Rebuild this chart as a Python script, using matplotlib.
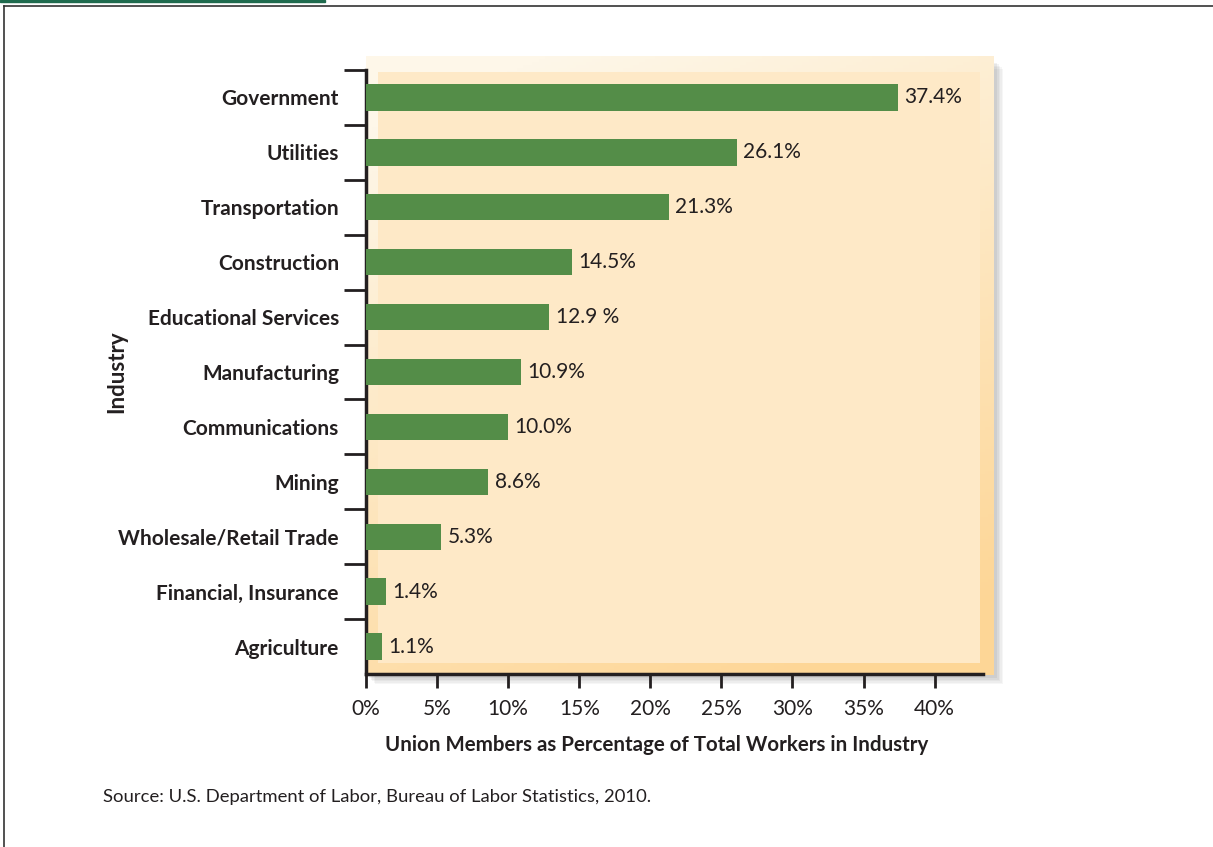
import numpy as np
import matplotlib.pyplot as plt
from matplotlib.patches import Rectangle

industries = ['Government', 'Utilities', 'Transportation', 'Construction',
              'Educational Services', 'Manufacturing', 'Communications',
              'Mining', 'Wholesale/Retail Trade', 'Financial, Insurance',
              'Agriculture']
share = [37.4, 26.1, 21.3, 14.5, 12.9, 10.9, 10.0, 8.6, 5.3, 1.4, 1.1]
value_labels = ['37.4%', '26.1%', '21.3%', '14.5%', '12.9 %', '10.9%',
                '10.0%', '8.6%', '5.3%', '1.4%', '1.1%']
xticks = [0, 5, 10, 15, 20, 25, 30, 35, 40]
xticklabels = ['0%', '5%', '10%', '15%', '20%', '25%', '30%', '35%', '40%']

W, H = 1213, 847
TXT = '#231f20'
BAR = '#548d48'

def fx(px):
    return px / W

def fy(py):
    return 1 - py / H

fig = plt.figure(figsize=(W / 100, H / 100), dpi=100)
fig.patch.set_facecolor('white')

# page frame and green strip on top
fig.add_artist(plt.Line2D([fx(4), 1], [fy(6), fy(6)], color='#333333', lw=1.2))
fig.add_artist(plt.Line2D([fx(4), fx(4)], [fy(6), 0], color='#333333', lw=1.2))
fig.add_artist(Rectangle((0, fy(2.5)), fx(325), 2.5 / H, color='#1f6b4e',
                         transform=fig.transFigure))

# soft shadow behind the panel
for i, a in enumerate([0.05, 0.05, 0.06, 0.07, 0.08]):
    off = 9 - i * 1.5
    fig.add_artist(Rectangle((fx(366 + off), fy(675 + off)),
                             (994 - 366) / W, (675 - 60) / H,
                             color='#555555', alpha=a, lw=0,
                             transform=fig.transFigure, zorder=0))

# gradient panel
bg = fig.add_axes([fx(366), fy(675), (994 - 366) / W, (675 - 56) / H], zorder=0.5)
gx, gy = np.meshgrid(np.linspace(0, 1, 200), np.linspace(0, 1, 200))
t = np.clip(0.35 * gx + 0.85 * gy - 0.1, 0, 1)
c0 = np.array([254, 247, 233]) / 255
c1 = np.array([253, 214, 150]) / 255
img = c0[None, None, :] * (1 - t[..., None]) + c1[None, None, :] * t[..., None]
bg.imshow(img, aspect='auto', extent=[0, 1, 0, 1], origin='upper')
bg.add_patch(Rectangle(((378 - 366) / 628, (675 - 663) / 619),
                       (980 - 378) / 628, (663 - 72) / 619,
                       color='#fee9c7', lw=0))
bg.set_xlim(0, 1)
bg.set_ylim(0, 1)
bg.axis('off')

ax = fig.add_axes([fx(366), fy(674), (983 - 366) / W, (674 - 70) / H], zorder=1)
ax.patch.set_alpha(0)

y = np.arange(len(industries))
ax.barh(y, share, height=0.48, color=BAR, zorder=3)
for yi, v, lab in zip(y, share, value_labels):
    ax.text(v + 0.45, yi, lab, va='center', ha='left', fontsize=15,
            family='Lato', color=TXT, zorder=4)

ax.set_ylim(len(industries) - 0.5, -0.5)
ax.set_xlim(0, 43.4)
ax.set_yticks(y)
ax.set_yticklabels(industries, fontsize=15, family='Lato',
                   fontweight='bold', color=TXT)
ax.set_yticks(np.arange(len(industries)) - 0.5, minor=True)
ax.tick_params(axis='y', which='major', length=0, pad=19.5)
ax.tick_params(axis='y', which='minor', length=16, width=2, color=TXT)
ax.set_xticks(xticks)
ax.set_xticklabels(xticklabels, fontsize=15, family='Lato', color=TXT)
ax.tick_params(axis='x', length=10, width=2, color=TXT, pad=8)

for s in ['top', 'right']:
    ax.spines[s].set_visible(False)
for s in ['left', 'bottom']:
    ax.spines[s].set_linewidth(2.5)
    ax.spines[s].set_color(TXT)

ax.set_xlabel('Union Members as Percentage of Total Workers in Industry',
              fontsize=14.8, family='Lato', fontweight='bold', color=TXT)
ax.xaxis.set_label_coords((657 - 366) / 617, -(735 - 674) / 604)
ax.set_ylabel('Industry', fontsize=16, family='Lato', fontweight='bold',
              color=TXT)
ax.yaxis.set_label_coords(-(366 - 127) / 617, 0.5)

fig.text(fx(103), fy(797), 'Source: U.S. Department of Labor, Bureau of Labor Statistics, 2010.',
         fontsize=13.3, family='Lato', color=TXT, va='center', ha='left')

fig.savefig('out.png', dpi=100)
